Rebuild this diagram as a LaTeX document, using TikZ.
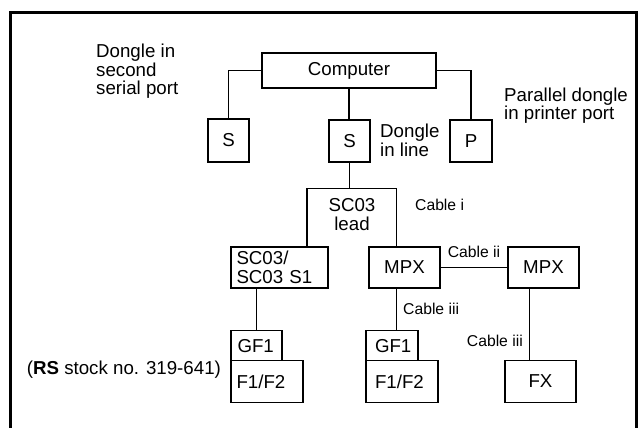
\documentclass[tikz,border=0pt]{standalone}
\usepackage{fontspec}
\setmainfont{Liberation Sans}
\newcommand\mainsz{\fontsize{18.7}{18.5}\selectfont}
\newcommand\cablesz{\fontsize{15.7}{18}\selectfont}
\begin{document}
\begin{tikzpicture}[x=1pt,y=-1pt,
  box/.style={draw, line width=1.3pt, inner sep=0pt, font=\mainsz, align=center},
  conn/.style={line width=1.3pt},
  frame/.style={line width=2.6pt},
  note/.style={inner sep=0pt, font=\mainsz, align=left},
  cablelbl/.style={inner sep=0pt, font=\cablesz}]
\useasboundingbox (0,0) rectangle (642,428);
% outer frame (open at the bottom)
\coordinate (fbl) at (10.3,430);
\coordinate (ftl) at (10.3,12.5);
\coordinate (ftr) at (636.3,12.5);
\coordinate (fbr) at (636.3,430);
\draw[frame] (fbl) -- (ftl) -- (ftr) -- (fbr);

% boxes
\node[box, minimum width=174pt, minimum height=35pt] (comp) at (349,70.5) {Computer};
\node[box, minimum width=41pt, minimum height=43pt] (s1) at (228.5,140.5) {S};
\node[box, minimum width=41pt, minimum height=42pt] (s2) at (349.5,141) {S};
\node[box, minimum width=42pt, minimum height=42pt] (p) at (471,141) {P};

\node[note, align=center] (leadtxt) at (352,214.5) {SC03\\lead};
\coordinate (leadtl) at (307,188.3);
\coordinate (leadtr) at (396.7,188.3);

\node[box, minimum height=41pt, text width=86pt, inner xsep=5.5pt, align=left] (sc03s1) at (279.5,267.5) {SC03/\\SC03 S1};
\node[box, minimum width=71pt, minimum height=41pt] (mpx1) at (404.5,267.5) {MPX};
\node[box, minimum width=71pt, minimum height=41pt] (mpx2) at (543.5,267.5) {MPX};

\node[box, minimum height=30pt, text width=38pt, inner xsep=6.5pt, align=left] (gf1l) at (256.5,345.7) {GF1};
\node[box, minimum height=41.6pt, text width=61pt, inner xsep=5.5pt, align=left] (f12l) at (267,381.5) {F1/F2};
\node[box, minimum height=30pt, text width=34pt, inner xsep=9pt, align=left] (gf1m) at (392,345.7) {GF1};
\node[box, minimum height=41.6pt, text width=54pt, inner xsep=9pt, align=left] (f12m) at (402,381.5) {F1/F2};
\node[box, minimum width=71pt, minimum height=41.6pt] (fx) at (540.5,381.5) {FX};
\coordinate (c3x) at (529.3,0);

% connectors
\draw[conn] (comp.west) -| (s1.north);
\draw[conn] (comp.south) -- (comp.south |- s2.north);
\draw[conn] (comp.east) -| (p.north);
\draw[conn] (s2.south) -- (s2.south |- leadtl);
\draw[conn] (sc03s1.north -| leadtl) -- (leadtl) -- (leadtr) -- (mpx1.north -| leadtr);
\draw[conn] (mpx1.east) -- (mpx2.west);
\draw[conn] (sc03s1.south -| gf1l.north) -- (gf1l.north);
\draw[conn] (mpx1.south -| leadtr) -- (gf1m.north -| leadtr);
\draw[conn] (mpx2.south -| c3x) -- (fx.north -| c3x);

% notes
\node[note, anchor=north west] (n1) at (96,43.8) {Dongle in\\second\\serial port};
\node[note, anchor=north west] (n2) at (504,87.5) {Parallel dongle\\in printer port};
\node[note, anchor=north west] (n3) at (380,124) {Dongle\\in line};
\node[note, anchor=base west] (n4) at (26.7,374.7) {(\textbf{RS} stock no. 319-641)};

% cable labels
\node[cablelbl, anchor=base west] (ci) at (415,210.7) {Cable i};
\node[cablelbl, anchor=base] (cii) at (474,257.3) {Cable ii};
\node[cablelbl, anchor=base west] (ciii1) at (403,314.7) {Cable iii};
\node[cablelbl, anchor=base east] (ciii2) at (523,346.3) {Cable iii};
\end{tikzpicture}
\end{document}
